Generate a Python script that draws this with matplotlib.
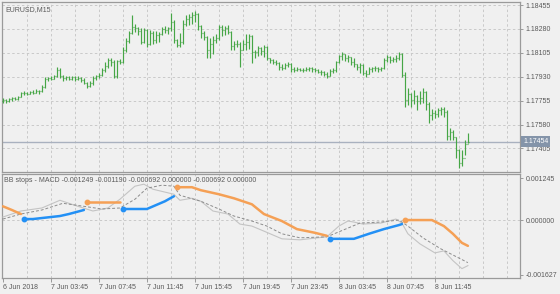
import matplotlib
matplotlib.use("Agg")
import matplotlib.pyplot as plt
import matplotlib.transforms as mtransforms
import numpy as np

plt.rcParams['font.family'] = ['Liberation Sans', 'DejaVu Sans']

# ---------------- data ----------------
time_labels = ['6 Jun 2018', '7 Jun 03:45', '7 Jun 07:45', '7 Jun 11:45', '7 Jun 15:45',
               '7 Jun 19:45', '7 Jun 23:45', '8 Jun 03:45', '8 Jun 07:45', '8 Jun 11:45']
label_bars = [0, 16, 32, 48, 64, 80, 96, 112, 128, 144]

close = [
    1.17760, 1.17752, 1.17767, 1.17774, 1.17767, 1.17781, 1.17811, 1.17811, 1.17803, 1.17818,
    1.17811, 1.17825, 1.17825, 1.17855, 1.17913, 1.17921, 1.17913, 1.17935, 1.17979, 1.17935,
    1.17921, 1.17928, 1.17913, 1.17928, 1.17913, 1.17921, 1.17906, 1.17884, 1.17862, 1.17884,
    1.17921, 1.17935, 1.17943, 1.17979, 1.18008, 1.18052, 1.18038, 1.17935, 1.18045, 1.18038,
    1.18126, 1.18191, 1.18250, 1.18294, 1.18287, 1.18265, 1.18184, 1.18272, 1.18170, 1.18250,
    1.18199, 1.18235, 1.18243, 1.18279, 1.18272, 1.18287, 1.18331, 1.18199, 1.18162, 1.18184,
    1.18316, 1.18353, 1.18367, 1.18382, 1.18389, 1.18301, 1.18250, 1.18221, 1.18126, 1.18170,
    1.18199, 1.18213, 1.18294, 1.18272, 1.18287, 1.18257, 1.18155, 1.18170, 1.18170, 1.18126,
    1.18170, 1.18184, 1.18228, 1.18111, 1.18111, 1.18140, 1.18118, 1.18148, 1.18067, 1.18052,
    1.18038, 1.18030, 1.18001, 1.17994, 1.18016, 1.18023, 1.17987, 1.17979, 1.17987, 1.17979,
    1.17979, 1.17987, 1.17994, 1.17987, 1.17979, 1.17965, 1.17965, 1.17950, 1.17935, 1.17972,
    1.17979, 1.18038, 1.18082, 1.18096, 1.18067, 1.18074, 1.18038, 1.18023, 1.18001, 1.18016,
    1.17957, 1.17950, 1.17987, 1.17994, 1.17994, 1.17987, 1.17994, 1.18052, 1.18074, 1.18052,
    1.18060, 1.18067, 1.18096, 1.17943, 1.17760, 1.17803, 1.17760, 1.17789, 1.17752, 1.17774,
    1.17818, 1.17730, 1.17650, 1.17664, 1.17657, 1.17686, 1.17694, 1.17672, 1.17496, 1.17525,
    1.17489, 1.17394, 1.17299, 1.17335, 1.17438, 1.17454]

open_ = [
    1.17752, 1.17760, 1.17752, 1.17767, 1.17774, 1.17767, 1.17781, 1.17811, 1.17811, 1.17803,
    1.17818, 1.17811, 1.17825, 1.17825, 1.17855, 1.17913, 1.17921, 1.17913, 1.17935, 1.17979,
    1.17935, 1.17921, 1.17928, 1.17913, 1.17928, 1.17913, 1.17921, 1.17906, 1.17884, 1.17862,
    1.17884, 1.17921, 1.17935, 1.17943, 1.17979, 1.18008, 1.18052, 1.18038, 1.17935, 1.18045,
    1.18038, 1.18126, 1.18191, 1.18250, 1.18294, 1.18287, 1.18265, 1.18184, 1.18272, 1.18170,
    1.18250, 1.18199, 1.18235, 1.18243, 1.18279, 1.18272, 1.18287, 1.18331, 1.18199, 1.18162,
    1.18184, 1.18316, 1.18353, 1.18367, 1.18382, 1.18389, 1.18301, 1.18250, 1.18221, 1.18126,
    1.18170, 1.18199, 1.18213, 1.18294, 1.18272, 1.18287, 1.18257, 1.18155, 1.18170, 1.18170,
    1.18126, 1.18170, 1.18184, 1.18228, 1.18111, 1.18111, 1.18140, 1.18118, 1.18148, 1.18067,
    1.18052, 1.18038, 1.18030, 1.18001, 1.17994, 1.18016, 1.18023, 1.17987, 1.17979, 1.17987,
    1.17979, 1.17979, 1.17987, 1.17994, 1.17987, 1.17979, 1.17965, 1.17965, 1.17950, 1.17935,
    1.17972, 1.17979, 1.18038, 1.18082, 1.18096, 1.18067, 1.18074, 1.18038, 1.18023, 1.18001,
    1.18016, 1.17957, 1.17950, 1.17987, 1.17994, 1.17994, 1.17987, 1.17994, 1.18052, 1.18074,
    1.18052, 1.18060, 1.18067, 1.18096, 1.17943, 1.17760, 1.17803, 1.17760, 1.17789, 1.17752,
    1.17774, 1.17818, 1.17730, 1.17650, 1.17664, 1.17657, 1.17686, 1.17694, 1.17672, 1.17496,
    1.17525, 1.17489, 1.17394, 1.17299, 1.17335, 1.17438]

high = [
    1.17774, 1.17767, 1.17774, 1.17781, 1.17781, 1.17789, 1.17818, 1.17825, 1.17818, 1.17825,
    1.17833, 1.17840, 1.17833, 1.17869, 1.17928, 1.17928, 1.17935, 1.17943, 1.18001, 1.17994,
    1.17943, 1.17935, 1.17935, 1.17935, 1.17935, 1.17935, 1.17928, 1.17921, 1.17891, 1.17899,
    1.17935, 1.17943, 1.17957, 1.17994, 1.18038, 1.18067, 1.18067, 1.18052, 1.18052, 1.18060,
    1.18148, 1.18213, 1.18265, 1.18382, 1.18316, 1.18294, 1.18287, 1.18287, 1.18279, 1.18272,
    1.18265, 1.18265, 1.18257, 1.18294, 1.18301, 1.18294, 1.18396, 1.18345, 1.18206, 1.18250,
    1.18345, 1.18382, 1.18389, 1.18404, 1.18411, 1.18396, 1.18309, 1.18265, 1.18228, 1.18213,
    1.18228, 1.18243, 1.18309, 1.18309, 1.18301, 1.18309, 1.18265, 1.18191, 1.18199, 1.18184,
    1.18199, 1.18243, 1.18243, 1.18235, 1.18126, 1.18155, 1.18148, 1.18162, 1.18155, 1.18067,
    1.18060, 1.18052, 1.18038, 1.18023, 1.18030, 1.18038, 1.18030, 1.18001, 1.18001, 1.17994,
    1.17994, 1.18001, 1.18001, 1.18001, 1.17994, 1.17987, 1.17979, 1.17972, 1.17965, 1.17987,
    1.17994, 1.18045, 1.18089, 1.18111, 1.18096, 1.18089, 1.18074, 1.18067, 1.18023, 1.18030,
    1.18023, 1.17979, 1.18001, 1.18001, 1.18008, 1.18001, 1.18001, 1.18067, 1.18089, 1.18082,
    1.18074, 1.18089, 1.18111, 1.18104, 1.17965, 1.17847, 1.17811, 1.17833, 1.17796, 1.17825,
    1.17847, 1.17825, 1.17745, 1.17694, 1.17686, 1.17701, 1.17708, 1.17708, 1.17686, 1.17555,
    1.17540, 1.17489, 1.17401, 1.17394, 1.17467, 1.17518]

low = [
    1.17738, 1.17738, 1.17745, 1.17752, 1.17760, 1.17760, 1.17781, 1.17796, 1.17796, 1.17803,
    1.17803, 1.17811, 1.17803, 1.17818, 1.17847, 1.17899, 1.17906, 1.17913, 1.17928, 1.17921,
    1.17899, 1.17906, 1.17906, 1.17906, 1.17899, 1.17906, 1.17891, 1.17877, 1.17847, 1.17855,
    1.17869, 1.17906, 1.17921, 1.17935, 1.17965, 1.17994, 1.18008, 1.17921, 1.17921, 1.18023,
    1.18030, 1.18111, 1.18177, 1.18243, 1.18257, 1.18235, 1.18170, 1.18177, 1.18148, 1.18162,
    1.18170, 1.18177, 1.18184, 1.18235, 1.18250, 1.18243, 1.18265, 1.18177, 1.18148, 1.18148,
    1.18170, 1.18301, 1.18309, 1.18316, 1.18331, 1.18272, 1.18213, 1.18199, 1.18067, 1.18067,
    1.18096, 1.18177, 1.18199, 1.18228, 1.18235, 1.18243, 1.18126, 1.18126, 1.18148, 1.18001,
    1.18126, 1.18126, 1.18133, 1.18030, 1.18067, 1.18082, 1.18089, 1.18074, 1.18052, 1.18030,
    1.18023, 1.18016, 1.17979, 1.17979, 1.17987, 1.18001, 1.17965, 1.17965, 1.17972, 1.17972,
    1.17965, 1.17972, 1.17972, 1.17965, 1.17965, 1.17957, 1.17943, 1.17935, 1.17921, 1.17935,
    1.17957, 1.17965, 1.18030, 1.18052, 1.18045, 1.18038, 1.18016, 1.18001, 1.17979, 1.17957,
    1.17943, 1.17928, 1.17950, 1.17965, 1.17972, 1.17965, 1.17972, 1.17987, 1.18038, 1.18030,
    1.18038, 1.18038, 1.18052, 1.17928, 1.17708, 1.17723, 1.17708, 1.17730, 1.17686, 1.17730,
    1.17738, 1.17686, 1.17591, 1.17613, 1.17628, 1.17635, 1.17650, 1.17635, 1.17467, 1.17467,
    1.17467, 1.17335, 1.17262, 1.17277, 1.17357, 1.17445]

current_price = 1.17454
price_ticks = [1.18455, 1.18280, 1.18105, 1.17930, 1.17755, 1.17580, 1.17405]

# MACD main (solid grey) and signal (dashed grey), read at selected bars
macd_bars = [0, 6, 13, 19, 25, 30, 35, 39, 44, 47, 50, 57, 59, 63, 66, 70, 75, 79, 83, 87,
             93, 99, 108, 112, 115, 117, 120, 126, 131, 133, 135, 139, 144, 147, 150, 153, 155]
macd_vals = [0.00009, 0.00027, 0.00036, 0.00059, 0.00041, 0.00027, 0.00036, 0.00062, 0.00101,
             0.00107, 0.00092, 0.00077, 0.00059, 0.00065, 0.00056, 0.00027, 0.00018, -0.00012,
             -0.00018, -0.00033, -0.00056, -0.00059, -0.00050, -0.00018, -0.00003, -0.00006,
             -0.00012, -0.00009, 0.00003, -0.00009, -0.00041, -0.00071, -0.00098, -0.00092,
             -0.00121, -0.00145, -0.00136]
signal_bars = [0, 6, 13, 20, 27, 33, 39, 44, 48, 53, 57, 59, 66, 72, 77, 83, 88, 93, 99, 108,
               115, 119, 126, 132, 135, 140, 146, 155]
signal_vals = [0.00003, 0.00018, 0.00030, 0.00050, 0.00041, 0.00033, 0.00036, 0.00062, 0.00095,
               0.00104, 0.00101, 0.00074, 0.00056, 0.00033, 0.00012, -0.00003, -0.00018,
               -0.00041, -0.00053, -0.00050, -0.00024, -0.00009, -0.00006, 0.00000, -0.00018,
               -0.00053, -0.00086, -0.00127]

# BB stops: down-stop (orange) and up-stop (blue) segments
down_seg_bars = [[0, 3, 6],
                 [28, 39],
                 [58, 63, 66, 72, 77, 83, 87, 93, 98, 104, 108],
                 [134, 143, 147, 150, 153, 155]]
down_seg_vals = [[0.00041, 0.00030, 0.00018],
                 [0.00053, 0.00053],
                 [0.00098, 0.00098, 0.00089, 0.00077, 0.00065, 0.00047, 0.00018, -0.00003,
                  -0.00027, -0.00038, -0.00047],
                 [0.00000, 0.00000, -0.00018, -0.00041, -0.00068, -0.00077]]
up_seg_bars = [[7, 10, 19, 22, 27],
               [40, 48, 54, 57],
               [109, 117, 122, 127, 132, 133]]
up_seg_vals = [[0.00003, 0.00003, 0.00012, 0.00018, 0.00030],
               [0.00033, 0.00033, 0.00056, 0.00071],
               [-0.00056, -0.00056, -0.00041, -0.00027, -0.00015, -0.00012]]
ind_ticks = [0.001245, 0.000000, -0.001627]
ind_label = 'BB stops - MACD -0.001249 -0.001190 -0.000692 0.000000 -0.000692 0.000000'

# ---------------- style ----------------
BG = '#f0f0f0'
GREEN = '#46a646'
ORANGE = '#f5a055'
BLUE = '#2390f5'
GRID = '#c9c9c9'
SPINE = '#9a9a9a'
TXT = '#5a5a5a'
FS = 5.0

W, H = 560, 294
fig = plt.figure(figsize=(W / 100, H / 100), dpi=100, facecolor=BG)
ax1 = fig.add_axes([2 / W, 1 - 171.5 / H, 518 / W, 169.5 / H], facecolor=BG)
ax2 = fig.add_axes([2 / W, 1 - 278 / H, 518 / W, 104 / H], facecolor=BG, sharex=ax1)

x0 = -0.3
ax1.set_xlim(x0, x0 + 518 / 3)
ax1.set_ylim(1.17236, 1.18477)
ax2.set_ylim(-0.001729, 0.001374)

idx = np.arange(len(close))
# OHLC bars
ax1.vlines(idx, low, high, color=GREEN, lw=0.85, zorder=3)
ax1.hlines(open_, idx - 0.45, idx, color=GREEN, lw=0.85, zorder=3)
ax1.hlines(close, idx, idx + 0.45, color=GREEN, lw=0.85, zorder=3)

# current price line
ax1.axhline(current_price, color='#a9b1bf', lw=1.0, zorder=2)

# grids
grid_x = np.arange(8, 172, 8)
for ax in (ax1, ax2):
    for gx in grid_x:
        ax.axvline(gx, color=GRID, lw=0.7, ls=(0, (2.5, 2.5)), zorder=1)
for p in price_ticks:
    ax1.axhline(p, color=GRID, lw=0.7, ls=(0, (2.5, 2.5)), zorder=1)
ax2.axhline(0.0, color=GRID, lw=0.7, ls=(0, (2.5, 2.5)), zorder=1)

# indicator
ax2.plot(macd_bars, macd_vals, color='#c4c4c4', lw=0.8, zorder=3)
ax2.plot(signal_bars, signal_vals, color='#8c8c8c', lw=0.7, ls=(0, (3, 2)), zorder=3)
for bx, by in zip(down_seg_bars, down_seg_vals):
    ax2.plot(bx, by, color=ORANGE, lw=1.8, solid_capstyle='round', zorder=4)
    if bx[0] > 0:
        ax2.plot(bx[0], by[0], 'o', color=ORANGE, ms=3.2, zorder=5)
for bx, by in zip(up_seg_bars, up_seg_vals):
    ax2.plot(bx, by, color=BLUE, lw=1.8, solid_capstyle='round', zorder=4)
    ax2.plot(bx[0], by[0], 'o', color=BLUE, ms=3.2, zorder=5)

# axes styling
for ax in (ax1, ax2):
    for s in ax.spines.values():
        s.set_color(SPINE)
        s.set_linewidth(0.9)
    ax.yaxis.tick_right()
    ax.tick_params(axis='y', direction='out', length=2.5, width=0.7, colors=SPINE,
                   labelcolor=TXT, labelsize=FS, pad=1.5)

ax1.set_yticks(price_ticks)
ax1.set_yticklabels([f'{p:.5f}' for p in price_ticks])
ax2.set_yticks(ind_ticks)
ax2.set_yticklabels([f'{v:.6f}' for v in ind_ticks])

ax1.tick_params(axis='x', bottom=False, labelbottom=False)
ax2.set_xticks(label_bars)
ax2.set_xticklabels(time_labels, ha='left')
ax2.tick_params(axis='x', direction='out', length=3, width=0.7, colors=SPINE,
                labelcolor=TXT, labelsize=FS, pad=1.5)

# texts
ax1.text(3 / 518, 1 - 4 / 169.5, 'EURUSD,M15', transform=ax1.transAxes, ha='left', va='top',
         fontsize=FS, color=TXT)
ax2.text(2 / 518, 1 - 3.5 / 104, ind_label, transform=ax2.transAxes, ha='left', va='top',
         fontsize=FS, color=TXT)

# current price label box
trans = mtransforms.blended_transform_factory(ax1.transAxes, ax1.transData)
ax1.text(1.006, current_price, f'{current_price:.5f}', transform=trans, ha='left', va='center',
         fontsize=FS, color='white', zorder=10, clip_on=False,
         bbox=dict(boxstyle='square,pad=0.3', fc='#8494a9', ec='none'))

fig.savefig('out.png', dpi=100, facecolor=BG)
